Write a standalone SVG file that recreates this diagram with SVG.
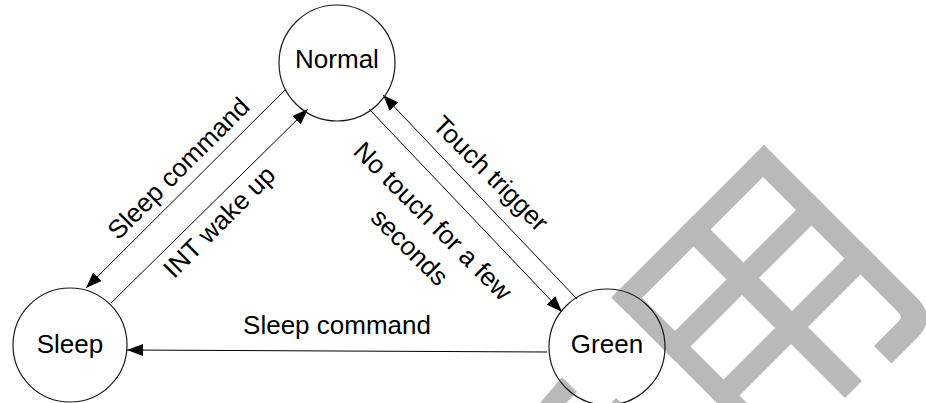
<svg xmlns="http://www.w3.org/2000/svg" width="926" height="403" viewBox="0 0 926 403">
  <style>
    .wm { fill: #b9b9b9; }
    .node { fill: none; stroke: #1a1a1a; stroke-width: 1.2; }
    .edge { fill: none; stroke: #000; stroke-width: 1; }
    .lbl { font-family: "Liberation Sans", Arial, sans-serif; font-size: 26px; fill: #000; text-anchor: middle; }
  </style>
  <defs>
    <marker id="arr" viewBox="0 0 16 12" refX="16" refY="6" markerWidth="16" markerHeight="12" orient="auto" markerUnits="userSpaceOnUse">
      <path d="M0,0 L16,6 L0,12 Z" fill="#000"/>
    </marker>
  </defs>

  <rect width="926" height="403" fill="#fff"/>

  <g id="watermark">
    <g transform="matrix(0.5,-0.5,0.5,0.5,0,0)">
      <rect class="wm" x="314" y="909" width="305" height="31"/>
      <path class="wm" d="M586,909 H619 V1215 Q619,1255 579,1255 H528 V1220 H578 Q586,1220 586,1212 Z"/>
      <rect class="wm" x="447" y="909" width="34" height="334"/>
      <rect class="wm" x="314" y="909" width="30" height="600"/>
      <rect class="wm" x="314" y="1006" width="305" height="31"/>
      <rect class="wm" x="314" y="1103" width="305" height="32"/>
    </g>
    <polygon class="wm" points="540,403 562,377 577,392 566,403"/>
    <polygon class="wm" points="611,403 616,398 622,403"/>
  </g>

  <g id="connectors">
    <line class="edge" x1="285" y1="90" x2="86" y2="288" marker-end="url(#arr)"/>
    <line class="edge" x1="111" y1="303" x2="308" y2="109" marker-end="url(#arr)"/>
    <line class="edge" x1="369" y1="109" x2="562" y2="312" marker-end="url(#arr)"/>
    <line class="edge" x1="577" y1="299" x2="383" y2="95" marker-end="url(#arr)"/>
    <line class="edge" x1="547" y1="352" x2="127" y2="350" marker-end="url(#arr)"/>
    <text class="lbl" transform="translate(184.7,174.7) rotate(-45)">Sleep command</text>
    <text class="lbl" transform="translate(225.5,228) rotate(-45)">INT wake up</text>
    <text class="lbl" transform="translate(484.5,179.7) rotate(45)">Touch trigger</text>
    <text class="lbl" transform="translate(426.7,227.4) rotate(45)">No touch for a few</text>
    <text class="lbl" transform="translate(403.4,253.3) rotate(45)">seconds</text>
    <text class="lbl" x="337" y="334">Sleep command</text>
  </g>

  <g id="node-normal">
    <circle class="node" cx="337" cy="63" r="58"/>
    <text class="lbl" x="337" y="68">Normal</text>
  </g>
  <g id="node-sleep">
    <circle class="node" cx="70" cy="345" r="57"/>
    <text class="lbl" x="70" y="353">Sleep</text>
  </g>
  <g id="node-green">
    <circle class="node" cx="607" cy="347" r="58"/>
    <text class="lbl" x="607" y="353">Green</text>
  </g>
</svg>
